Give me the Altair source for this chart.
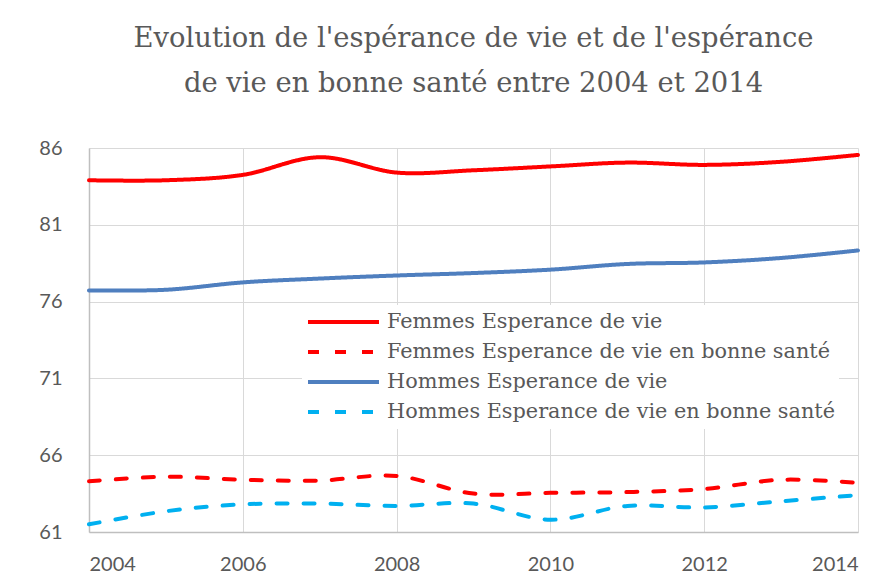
import altair as alt
import pandas as pd

years = list(range(2004, 2015))
femmes_ev = [83.9, 83.9, 84.25, 85.4, 84.4, 84.55, 84.8, 85.05, 84.9, 85.1, 85.55]
femmes_evbs = [64.3, 64.6, 64.4, 64.35, 64.65, 63.5, 63.55, 63.6, 63.8, 64.4, 64.2]
hommes_ev = [76.73, 76.77, 77.25, 77.5, 77.7, 77.86, 78.08, 78.45, 78.55, 78.84, 79.33]
hommes_evbs = [61.5, 62.35, 62.8, 62.85, 62.7, 62.85, 61.8, 62.7, 62.6, 63.0, 63.4]

series_names = [
    "Femmes Esperance de vie",
    "Femmes Esperance de vie en bonne santé",
    "Hommes Esperance de vie",
    "Hommes Esperance de vie en bonne santé",
]
series_values = [femmes_ev, femmes_evbs, hommes_ev, hommes_evbs]
colors = ["#FF0000", "#FF0000", "#4F7FBF", "#00B0F0"]
dashes = [[1, 0], [11, 16], [1, 0], [11, 16]]

rows = []
for name, vals in zip(series_names, series_values):
    for y, v in zip(years, vals):
        rows.append({"annee": y, "valeur": v, "serie": name})
df = pd.DataFrame(rows)

legend = alt.Legend(
    title=None,
    orient="none",
    legendX=213,
    legendY=157,
    symbolType="stroke",
    symbolSize=5041,
    symbolStrokeWidth=4,
    clipHeight=26,
    labelFont="DejaVu Serif",
    labelFontSize=20.8,
    labelColor="#595959",
    labelOffset=6,
    rowPadding=4,
    padding=4,
    fillColor="#FFFFFF",
    labelLimit=600,
)

chart = alt.Chart(df).mark_line(
    strokeWidth=4, interpolate="cardinal", strokeCap="round", strokeJoin="round"
).encode(
    x=alt.X("annee:Q", scale=alt.Scale(domain=[2004, 2014], nice=False, zero=False),
            axis=alt.Axis(values=[2004, 2006, 2008, 2010, 2012, 2014], format="d", title=None)),
    y=alt.Y("valeur:Q", scale=alt.Scale(domain=[61, 86], nice=False, zero=False),
            axis=alt.Axis(values=[61, 66, 71, 76, 81, 86], title=None)),
    color=alt.Color("serie:N", scale=alt.Scale(domain=series_names, range=colors), legend=legend),
    strokeDash=alt.StrokeDash("serie:N", scale=alt.Scale(domain=series_names, range=dashes), legend=legend),
).properties(
    width=769,
    height=384,
    title=alt.Title(
        ["Evolution de l'espérance de vie et de l'espérance",
         "de vie en bonne santé entre 2004 et 2014"],
        font="DejaVu Serif",
        fontSize=27.4,
        fontWeight="normal",
        color="#595959",
        lineHeight=45,
        anchor="middle",
        offset=41,
    ),
    autosize=alt.AutoSizeParams(type="none"),
    padding={"left": 81, "top": 140, "right": 29, "bottom": 45},
).configure_view(
    stroke=None
).configure_axis(
    grid=True,
    gridColor="#D9D9D9",
    gridWidth=1,
    domainColor="#BFBFBF",
    domainWidth=1.5,
    ticks=False,
    labelFont="Lato",
    labelFontSize=20,
    labelColor="#595959",
).configure_axisX(
    labelPadding=22,
).configure_axisY(
    labelPadding=27,
)

chart.save("out.html", embed_options={"renderer": "svg", "actions": False})
